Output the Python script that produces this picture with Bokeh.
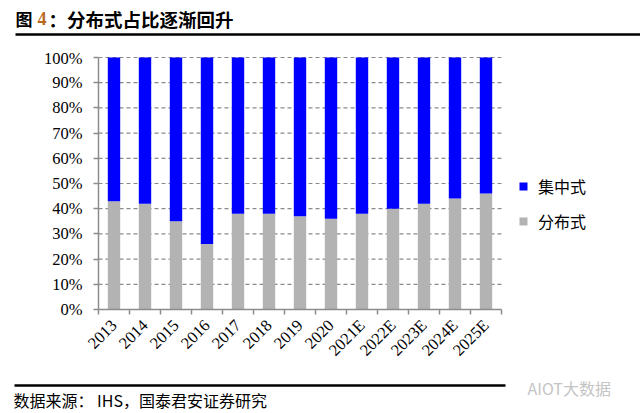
import math
from bokeh.plotting import figure
from bokeh.models import (ColumnDataSource, Range1d, FixedTicker, LinearAxis,
                          CustomJSTickFormatter, Legend, LegendItem)
from bokeh.core.properties import value
from bokeh.embed import file_html
from bokeh.resources import INLINE

# ---------------- data ----------------
years = ["2013", "2014", "2015", "2016", "2017", "2018", "2019", "2020",
         "2021E", "2022E", "2023E", "2024E", "2025E"]
distributed = [43, 42, 35, 26, 38, 38, 37, 36, 38, 40, 42, 44, 46]      # 分布式
centralized = [57, 58, 65, 74, 62, 62, 63, 64, 62, 60, 58, 56, 54]      # 集中式
series_names = ["分布式", "集中式"]
y_ticks = [0, 10, 20, 30, 40, 50, 60, 70, 80, 90, 100]

title_prefix = "图"
title_number = "4"
title_rest = "：分布式占比逐渐回升"
source_text = "数据来源： IHS，国泰君安证券研究"
watermark = "AIOT大数据"

GRAY = "#B3B3B3"
BLUE = "#0000FF"
AXIS = "#8C8C8C"
W = 640
CJK = "Noto Sans CJK SC"
SERIF = "Liberation Serif"

# ---------------- header ----------------
H1 = 48
head = figure(width=W, height=H1, x_range=Range1d(0, W), y_range=Range1d(0, H1),
              toolbar_location=None, output_backend="svg", min_border=0,
              x_axis_location=None, y_axis_location=None)
head.grid.visible = False
head.outline_line_color = None
head.text(x=[15], y=[30], text=[title_prefix], text_font=value(CJK), text_font_size="17px",
          text_font_style="bold", text_baseline="middle", text_color="black")
head.text(x=[37], y=[30], text=[title_number], text_font=value(SERIF), text_font_size="18px",
          text_font_style="bold", text_baseline="middle", text_color="#B8691F")
head.text(x=[48], y=[30], text=[title_rest], text_font=value(CJK), text_font_size="18.5px",
          text_font_style="bold", text_baseline="middle", text_color="black")
head.line(x=[15, W], y=[14, 14], line_color="black", line_width=2.5)

# ---------------- main chart ----------------
H2 = 328
LEFT, RIGHT_BORDER = 98, 10
BARS_PX = 403                      # pixel width taken by the 13 categories
frame_w = W - LEFT - RIGHT_BORDER
n = len(years)
x_lo = -0.5
x_hi_bars = n - 0.5
x_hi = x_lo + n * frame_w / BARS_PX

idx = list(range(n))
src = ColumnDataSource(dict(x=idx, dist=distributed, cent=centralized))
p = figure(width=W, height=H2, x_range=Range1d(x_lo, x_hi),
           y_range=Range1d(0, 100.4), toolbar_location=None, output_backend="svg",
           x_axis_location=None, min_border_left=LEFT, min_border_right=RIGHT_BORDER,
           min_border_top=8, min_border_bottom=67)
p.outline_line_color = None
p.grid.visible = False

# dashed horizontal gridlines limited to the category span
p.segment(x0=[x_lo] * len(y_ticks), x1=[x_hi_bars] * len(y_ticks), y0=y_ticks, y1=y_ticks,
          line_color="#8A8A8A", line_dash="4 3", line_width=1.2)

rs = p.vbar_stack(["dist", "cent"], x="x", width=0.4, color=[GRAY, BLUE], source=src,
                  line_width=0)

yax = p.yaxis[0]
yax.ticker = FixedTicker(ticks=y_ticks)
yax.formatter = CustomJSTickFormatter(code="return tick.toFixed(0) + '%';")
yax.minor_tick_line_color = None
yax.major_tick_in = 0
yax.major_tick_out = 5
yax.axis_line_color = AXIS
yax.major_tick_line_color = AXIS
yax.axis_line_width = 1.5
yax.major_tick_line_width = 1.5
yax.major_label_text_font = SERIF
yax.major_label_text_font_size = "16.5px"
yax.major_label_text_color = "black"
yax.major_label_standoff = 11
yax.bounds = (0, 100)

# boundary ticks axis (category edges)
edge_ax = LinearAxis(ticker=FixedTicker(ticks=[i - 0.5 for i in range(n + 1)]),
                     formatter=CustomJSTickFormatter(code="return '';"),
                     bounds=(x_lo, x_hi_bars),
                     major_tick_in=0, major_tick_out=5, minor_tick_line_color=None,
                     axis_line_color=AXIS, major_tick_line_color=AXIS,
                     axis_line_width=1.5, major_tick_line_width=1.5,
                     major_label_standoff=0, major_label_text_font_size="1px")
p.add_layout(edge_ax, "below")

cat_ax = LinearAxis(ticker=FixedTicker(ticks=idx),
                    major_label_overrides={i: y for i, y in zip(idx, years)},
                    axis_line_color=None, major_tick_line_color=None,
                    minor_tick_line_color=None,
                    major_tick_in=0, major_tick_out=0,
                    major_label_orientation=math.pi / 4,
                    major_label_standoff=8,
                    major_label_text_font=SERIF, major_label_text_font_size="16.5px",
                    major_label_text_color="black")
p.add_layout(cat_ax, "below")

legend = Legend(items=[LegendItem(label=series_names[1], renderers=[rs[1]]),
                       LegendItem(label=series_names[0], renderers=[rs[0]])],
                location=(420, 76), padding=0, margin=0, border_line_color=None,
                background_fill_alpha=0, glyph_width=10, glyph_height=10,
                label_height=20, spacing=11, label_standoff=10,
                label_text_font=CJK, label_text_font_size="16px", label_text_color="black")
p.add_layout(legend, "center")

# ---------------- footer ----------------
H3 = 37
foot = figure(width=W, height=H3, x_range=Range1d(0, W), y_range=Range1d(0, H3),
              toolbar_location=None, output_backend="svg", min_border=0,
              x_axis_location=None, y_axis_location=None)
foot.grid.visible = False
foot.outline_line_color = None
foot.line(x=[14, 505], y=[28, 28], line_color="black", line_width=2.5)
foot.text(x=[13], y=[14], text=[source_text], text_font=value(CJK), text_font_size="16px",
          text_baseline="middle", text_color="black")
foot.text(x=[527], y=[26], text=[watermark], text_font=value(CJK), text_font_size="16px",
          text_baseline="middle", text_color="#C4C4C4")

html = file_html([head, p, foot], INLINE)
html = html.replace("</head>", "<style>body > div { display:block; margin:0; padding:0; line-height:0; }</style></head>", 1)
open("out.html", "w").write(html)
